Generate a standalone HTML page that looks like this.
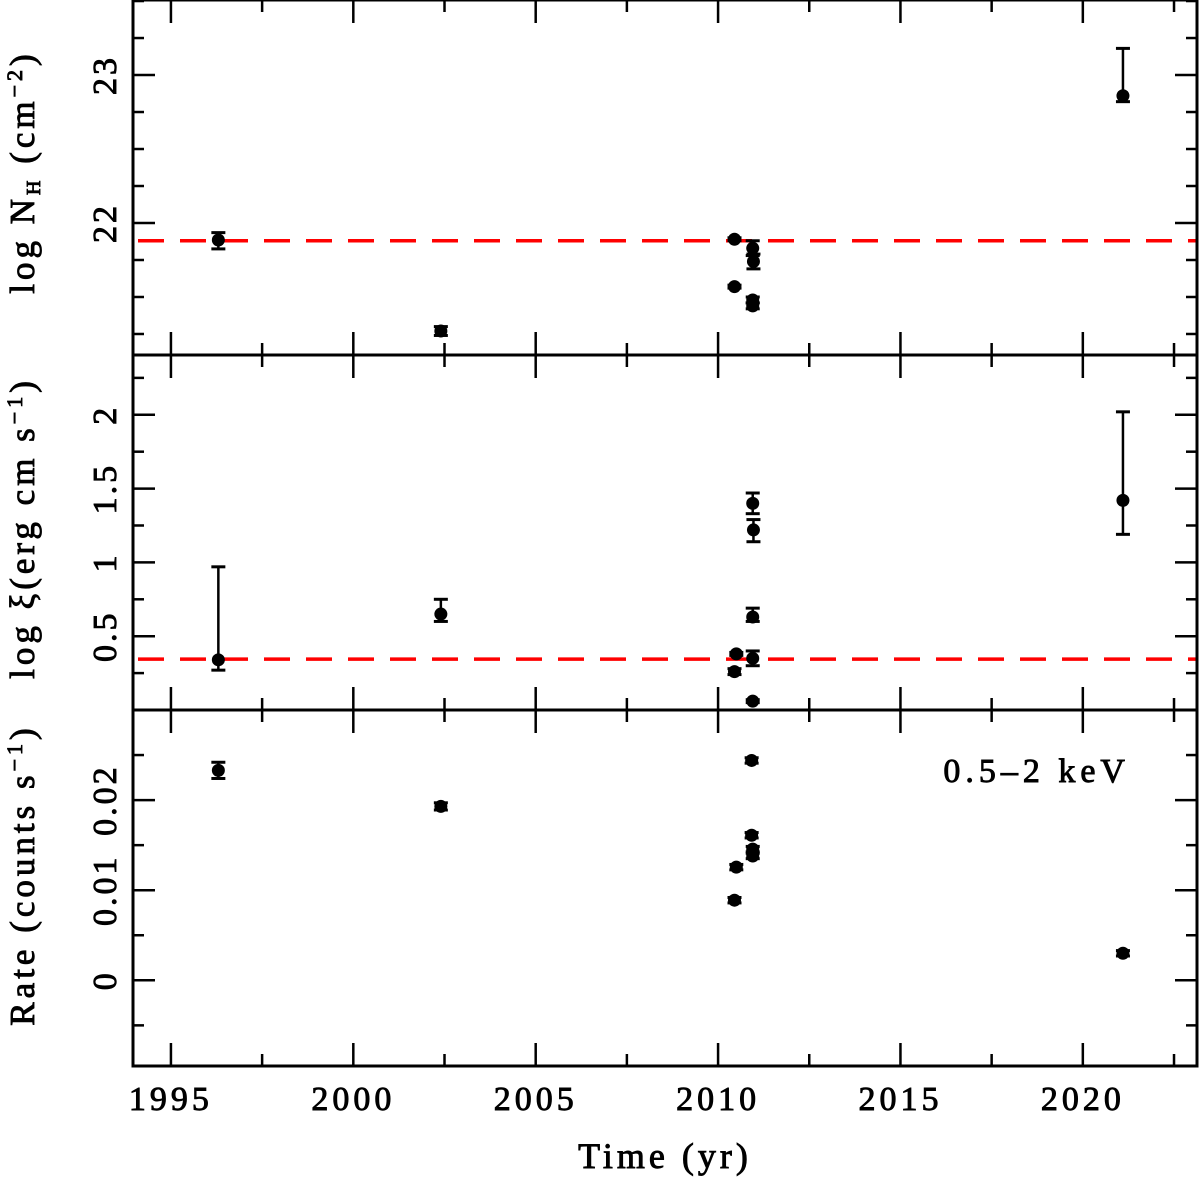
<!DOCTYPE html>
<html><head><meta charset="utf-8"><style>
html,body{margin:0;padding:0;background:#fff;width:1200px;height:1177px;overflow:hidden}
svg text{font-family:"Liberation Serif","DejaVu Serif",serif;fill:#000;stroke:#000;stroke-width:0.9}
</style></head><body>
<svg id="chart" width="1200" height="1177" viewBox="0 0 1200 1177" xmlns="http://www.w3.org/2000/svg"></svg>
<script>
// ---- data ----
const nhYears = [1996.3, 2002.4, 2010.45, 2010.45, 2010.95, 2010.97, 2010.95, 2010.95, 2021.1];
const nhValues = [21.885, 21.27, 21.89, 21.57, 21.83, 21.74, 21.48, 21.44, 22.86];
const nhErrLo = [0.06, 0.03, 0.01, 0.01, 0.05, 0.05, 0.02, 0.02, 0.04];
const nhErrHi = [0.05, 0.03, 0.01, 0.01, 0.05, 0.05, 0.02, 0.02, 0.32];
const nhRef = 21.88;
const xiYears = [1996.3, 2002.4, 2010.5, 2010.45, 2010.95, 2010.97, 2010.95, 2010.95, 2010.95, 2021.1];
const xiValues = [0.34, 0.65, 0.38, 0.26, 1.40, 1.22, 0.63, 0.35, 0.06, 1.42];
const xiErrLo = [0.07, 0.05, 0.01, 0.02, 0.07, 0.08, 0.03, 0.05, 0.01, 0.23];
const xiErrHi = [0.63, 0.10, 0.01, 0.02, 0.07, 0.07, 0.06, 0.05, 0.01, 0.60];
const xiRef = 0.345;
const rateYears = [1996.3, 2002.4, 2010.5, 2010.45, 2010.92, 2010.92, 2010.95, 2010.95, 2021.1];
const rateValues = [0.0233, 0.0193, 0.01256, 0.00889, 0.0244, 0.0161, 0.01456, 0.0138, 0.003];
const rateErr = [0.0009, 0.0004, 0.0003, 0.0003, 0.0003, 0.0003, 0.0003, 0.0003, 0.0003];
const xTicks = [1995, 2000, 2005, 2010, 2015, 2020];
const nhTicks = [22, 23];
const xiTicks = [0.5, 1, 1.5, 2];
const xiTickLabels = ["0.5", "1", "1.5", "2"];
const rateTicks = [0, 0.01, 0.02];
const rateTickLabels = ["0", "0.01", "0.02"];

// ---- geometry ----
const svg = document.getElementById('chart');
const NS = 'http://www.w3.org/2000/svg';
const L = 133, R = 1197;
const xMin = 1993.96, xMax = 2023.13;
const X = v => L + (v - xMin) / (xMax - xMin) * (R - L);
function mk(tag, attrs, parent) {
  const e = document.createElementNS(NS, tag);
  for (const k in attrs) e.setAttribute(k, attrs[k]);
  (parent || svg).appendChild(e);
  return e;
}
const panels = [
  {name:'nh', top:0, bot:355, min:21.108, max:23.507, minor:0.25, ticks:nhTicks, labels:nhTicks.map(String),
   xs:nhYears, ys:nhValues, lo:nhErrLo, hi:nhErrHi, ref:nhRef},
  {name:'xi', top:355, bot:710, min:0, max:2.405, minor:0.25, ticks:xiTicks, labels:xiTickLabels,
   xs:xiYears, ys:xiValues, lo:xiErrLo, hi:xiErrHi, ref:xiRef},
  {name:'rate', top:710, bot:1066, min:-0.00951, max:0.03, minor:0.005, ticks:rateTicks, labels:rateTickLabels,
   xs:rateYears, ys:rateValues, lo:rateErr, hi:rateErr, ref:null}
];
panels.forEach(p => {
  const Y = v => p.bot - (v - p.min) / (p.max - p.min) * (p.bot - p.top);
  const g = mk('g', {});
  
  
  if (p.ref !== null) {
    const rl = mk('line', {x1:L, x2:R, y1:Y(p.ref), y2:Y(p.ref), stroke:'#f00', 'stroke-width':3.5, 'stroke-dasharray':'26,16', 'stroke-dashoffset':'-5'}, g);
    
    
  }
  const start = Math.ceil(p.min / p.minor - 1e-6);
  for (let i = start; i * p.minor <= p.max + 1e-9; i++) {
    const v = i * p.minor;
    const major = p.ticks.some(t => Math.abs(t - v) < 1e-9);
    const len = major ? 22 : 11;
    mk('line', {x1:L, x2:L+len, y1:Y(v), y2:Y(v), stroke:'#000', 'stroke-width':2.5}, g);
    mk('line', {x1:R, x2:R-len, y1:Y(v), y2:Y(v), stroke:'#000', 'stroke-width':2.5}, g);
  }
  p.ticks.forEach((t, i) => {
    const tx = mk('text', {x:0, y:0, transform:`translate(116,${Y(t)}) rotate(-90)`, 'text-anchor':'middle', 'font-size':34, 'letter-spacing':3}, g);
    tx.textContent = p.labels[i];
    
    
  });
  for (let yr = 1995; yr <= 2022.5; yr += 2.5) {
    const major = yr % 5 === 0;
    const len = major ? 23 : 12;
    mk('line', {x1:X(yr), x2:X(yr), y1:p.bot, y2:p.bot-len, stroke:'#000', 'stroke-width':2.5}, g);
    mk('line', {x1:X(yr), x2:X(yr), y1:p.top, y2:p.top+len, stroke:'#000', 'stroke-width':2.5}, g);
  }
  p.xs.forEach((xv, i) => {
    const cx = X(xv), cy = Y(p.ys[i]);
    const y1 = Y(p.ys[i] - p.lo[i]), y2 = Y(p.ys[i] + p.hi[i]);
    const pg = mk('g', {}, g);
    
    
    mk('line', {x1:cx, x2:cx, y1:y1, y2:y2, stroke:'#000', 'stroke-width':2.5}, pg);
    mk('line', {x1:cx-7, x2:cx+7, y1:y1, y2:y1, stroke:'#000', 'stroke-width':3}, pg);
    mk('line', {x1:cx-7, x2:cx+7, y1:y2, y2:y2, stroke:'#000', 'stroke-width':3}, pg);
    mk('circle', {cx:cx, cy:cy, r:6.5, fill:'#000'}, pg);
  });
  const fr = mk('rect', {x:L, y:p.top, width:R-L, height:p.bot-p.top, fill:'none', stroke:'#000', 'stroke-width':3}, g);
  
  
});
xTicks.forEach(t => {
  const tx = mk('text', {x:X(t), y:1110, 'text-anchor':'middle', 'font-size':34, 'letter-spacing':4});
  tx.textContent = String(t);
  
  
});
const xt = mk('text', {x:665, y:1168, 'text-anchor':'middle', 'font-size':36, 'letter-spacing':4});
xt.textContent = 'Time (yr)';


function title(y, html, name){
  const e = mk('text', {transform:`translate(34,${y}) rotate(-90)`, 'text-anchor':'middle', 'font-size':35, 'letter-spacing':4});
  e.innerHTML = html;
  
  
}
title(172,'log N<tspan font-size="20" dy="6">H</tspan><tspan dy="-6"> (cm</tspan><tspan font-size="22" dy="-12">−2</tspan><tspan dy="12">)</tspan>','nh-y-axis-title');
title(528,'log ξ(erg cm s<tspan font-size="22" dy="-12">−1</tspan><tspan dy="12">)</tspan>','xi-y-axis-title');
title(875,'Rate (counts s<tspan font-size="22" dy="-12">−1</tspan><tspan dy="12">)</tspan>','rate-y-axis-title');
const b = mk('text', {x:1130, y:782, 'text-anchor':'end', 'font-size':34, 'letter-spacing':5});
b.textContent = '0.5–2 keV';


</script>
</body></html>
